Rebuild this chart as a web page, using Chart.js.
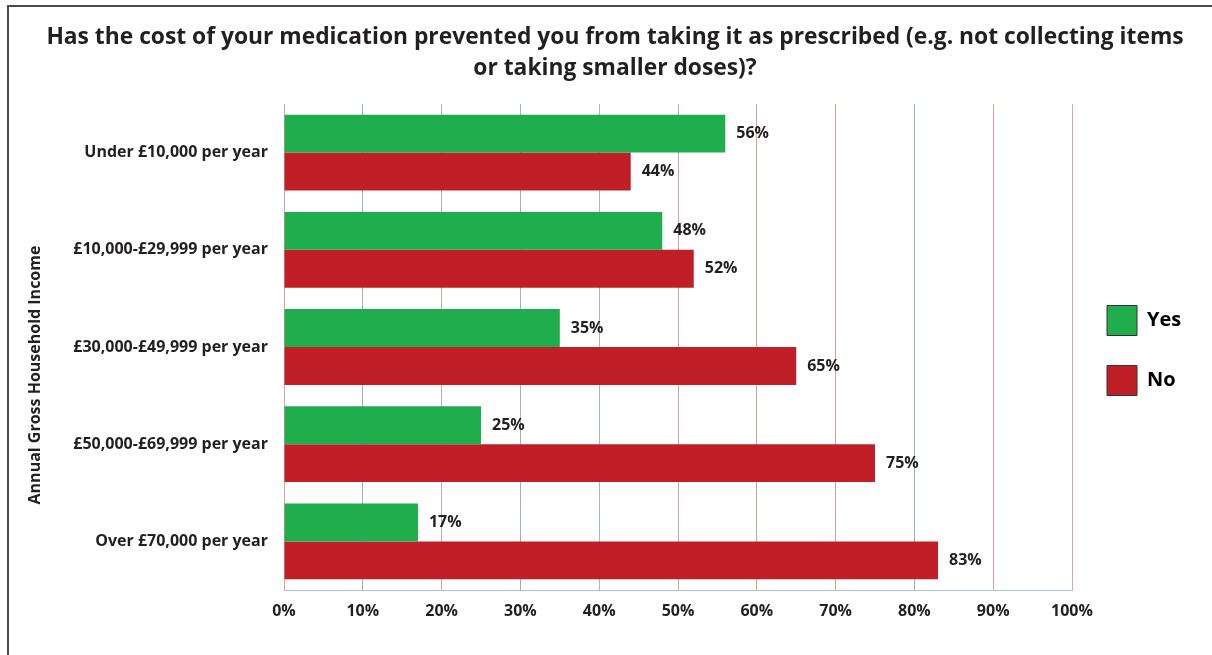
<!DOCTYPE html>
<html>
<head>
<meta charset="utf-8">
<script src="https://cdn.jsdelivr.net/npm/chart.js@4"></script>
<style>
  html, body { margin: 0; padding: 0; background: #fff; }
  #wrap { position: relative; width: 1212px; height: 655px; overflow: hidden; }
  #frame { position: absolute; left: 7px; top: 5px; width: 1300px; height: 800px;
           border-left: 2px solid #4a4a4a; border-top: 2px solid #4a4a4a; }
  #chart { position: absolute; left: 0; top: 0; }
</style>
</head>
<body>
<div id="wrap">
  <div id="frame"></div>
  <canvas id="chart" width="1212" height="655"></canvas>
</div>
<script>
// Survey data
const titleLines = [
    'Has the cost of your medication prevented you from taking it as prescribed (e.g. not collecting items',
    'or taking smaller doses)?'
];
const yAxisTitle = 'Annual Gross Household Income';
const incomeBands = [
    'Under £10,000 per year',
    '£10,000-£29,999 per year',
    '£30,000-£49,999 per year',
    '£50,000-£69,999 per year',
    'Over £70,000 per year'
];
const yesValues = [56, 48, 35, 25, 17];
const noValues = [44, 52, 65, 75, 83];

// Colours
const green = '#20ad4e';
const red = '#c01f27';
const textColor = '#231f20';
const font = '"Open Sans", "Noto Sans", sans-serif';

// Gridlines alternate between pinkish and blue-grey tints
const gridColours = ['#d8a79c', '#93b4c4', '#cfa8a4', '#93b4c4', '#a3bac6', '#d4a497',
                     '#dba293', '#dba293', '#93b4c4', '#dba293', '#d8aaa0'];

// Draws the value labels next to each bar, plus the rotated axis title
const labelPlugin = {
    id: 'barLabels',
    afterDatasetsDraw(chart) {
        const ctx = chart.ctx;
        ctx.save();
        ctx.font = 'bold 16px ' + font;
        ctx.fillStyle = textColor;
        ctx.textAlign = 'left';
        ctx.textBaseline = 'middle';
        chart.data.datasets.forEach((ds, i) => {
            const meta = chart.getDatasetMeta(i);
            meta.data.forEach((bar, j) => {
                ctx.fillText(ds.data[j] + '%', bar.x + 11, bar.y);
            });
        });
        ctx.restore();
    },
    afterDraw(chart) {
        const ctx = chart.ctx;
        ctx.save();
        ctx.font = 'bold 16px ' + font;
        ctx.fillStyle = textColor;
        ctx.textAlign = 'center';
        ctx.textBaseline = 'middle';
        ctx.translate(35, 375);
        ctx.rotate(-Math.PI / 2);
        ctx.fillText(yAxisTitle, 0, 0);
        ctx.restore();
    }
};

// Keep the legend column a fixed width on the right and nudge it into place
const legendPlacePlugin = {
    id: 'legendPlace',
    afterInit(chart) {
        const legend = chart.legend;
        const origFit = legend.fit;
        legend.fit = function() {
            origFit.call(this);
            this.width = 140;
        };
    },
    afterLayout(chart) {
        const legend = chart.legend;
        legend.left += 5;
        legend.right += 5;
        legend.top += 23;
        legend.bottom += 23;
    }
};

const chart = new Chart(document.getElementById('chart'), {
    type: 'bar',
    data: {
        labels: incomeBands,
        datasets: [
            {
                label: 'Yes',
                data: yesValues,
                backgroundColor: green,
                borderWidth: 0,
                categoryPercentage: 0.78,
                barPercentage: 1.0
            },
            {
                label: 'No',
                data: noValues,
                backgroundColor: red,
                borderWidth: 0,
                categoryPercentage: 0.78,
                barPercentage: 1.0
            }
        ]
    },
    options: {
        indexAxis: 'y',
        responsive: false,
        animation: false,
        devicePixelRatio: 1,
        layout: { padding: { left: 18, right: 0, top: 0, bottom: 0 } },
        scales: {
            x: {
                min: 0,
                max: 100,
                ticks: {
                    stepSize: 10,
                    padding: 12,
                    color: textColor,
                    font: { family: font, size: 16, weight: 'bold' },
                    callback: v => v + '%'
                },
                grid: {
                    drawTicks: false,
                    color: ctx => gridColours[ctx.index] || '#ccc',
                    lineWidth: 1
                },
                border: { display: true, color: '#a9c6d3', width: 1 },
                afterFit(scale) { scale.height = 65; }
            },
            y: {
                ticks: {
                    padding: 16,
                    color: textColor,
                    font: { family: font, size: 16, weight: 'bold' }
                },
                grid: { display: false, drawTicks: false },
                border: { display: true, color: '#d8a79c', width: 1 },
                afterFit(scale) { scale.width = 266; }
            }
        },
        plugins: {
            title: {
                display: true,
                text: titleLines,
                color: textColor,
                font: { family: font, size: 22.8, weight: 'bold', lineHeight: 1.36 },
                padding: { top: 22, bottom: 20 }
            },
            legend: {
                position: 'right',
                labels: {
                    boxWidth: 30,
                    boxHeight: 30,
                    padding: 30,
                    color: textColor,
                    font: { family: font, size: 20, weight: 'bold' },
                    generateLabels(chart) {
                        return chart.data.datasets.map((ds, i) => ({
                            text: ds.label,
                            fillStyle: ds.backgroundColor,
                            strokeStyle: '#333',
                            lineWidth: 1,
                            datasetIndex: i
                        }));
                    }
                }
            },
            tooltip: { enabled: false }
        }
    },
    plugins: [labelPlugin, legendPlacePlugin]
});
</script>
</body>
</html>
